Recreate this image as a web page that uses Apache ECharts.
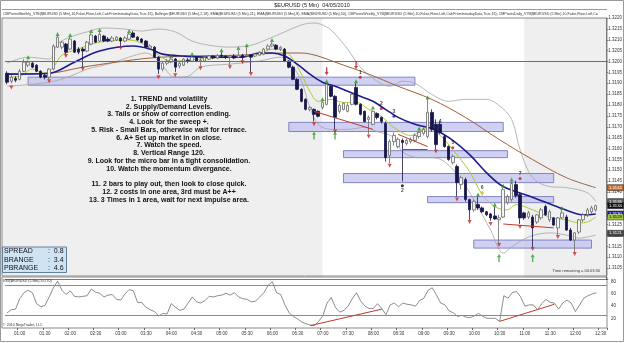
<!DOCTYPE html>
<html>
<head>
<meta charset="utf-8">
<script src="https://cdn.jsdelivr.net/npm/echarts@6/dist/echarts.min.js"></script>
<style>
html, body { margin: 0; padding: 0; background: #fff; }
#chart { width: 625px; height: 343px; }
</style>
</head>
<body>
<div id="chart"></div>
<script>
// 5 min bars, 00:45 .. 12:35 (last two slots empty)
const barTimes = [];
for (let m = 45; m <= 12 * 60 + 35; m += 5) {
  barTimes.push(String(Math.floor(m / 60)).padStart(2, '0') + ':' + String(m % 60).padStart(2, '0'));
}

// [open, close, low, high]
const candles = [
  [1.31946, 1.31905, 1.31895, 1.31955], [1.31909, 1.31928, 1.31900, 1.31937], [1.31923, 1.31914, 1.31905, 1.31932],
  [1.31918, 1.31955, 1.31914, 1.31965], [1.31955, 1.31997, 1.31951, 1.32011], [1.31983, 1.31997, 1.31974, 1.32006],
  [1.31992, 1.31974, 1.31969, 1.32002], [1.31983, 1.31955, 1.31951, 1.31988], [1.31955, 1.31928, 1.31923, 1.31960],
  [1.31937, 1.31928, 1.31918, 1.31946], [1.31928, 1.31965, 1.31918, 1.31969], [1.31965, 1.32071, 1.31960, 1.32080],
  [1.32066, 1.32112, 1.32062, 1.32117], [1.32066, 1.32089, 1.32057, 1.32094], [1.32080, 1.32043, 1.32034, 1.32085],
  [1.32057, 1.32103, 1.32052, 1.32112], [1.32094, 1.32043, 1.32039, 1.32099], [1.32057, 1.32043, 1.32034, 1.32066],
  [1.32057, 1.32048, 1.31974, 1.32066], [1.32048, 1.32089, 1.32043, 1.32094], [1.32080, 1.32122, 1.32075, 1.32131],
  [1.32117, 1.32089, 1.32085, 1.32122], [1.32094, 1.32126, 1.32089, 1.32136], [1.32117, 1.32094, 1.32089, 1.32122],
  [1.32103, 1.32094, 1.32089, 1.32112], [1.32094, 1.32108, 1.32089, 1.32117], [1.32099, 1.32112, 1.32094, 1.32117],
  [1.32108, 1.32094, 1.32071, 1.32112], [1.32094, 1.32108, 1.32089, 1.32117], [1.32103, 1.32126, 1.32099, 1.32131],
  [1.32131, 1.32112, 1.32108, 1.32140], [1.32112, 1.32099, 1.32094, 1.32117], [1.32103, 1.32089, 1.32085, 1.32108],
  [1.32094, 1.32066, 1.32062, 1.32099], [1.32062, 1.32071, 1.32057, 1.32080], [1.32066, 1.32020, 1.32016, 1.32071],
  [1.32020, 1.31965, 1.31942, 1.32025], [1.31965, 1.31992, 1.31955, 1.32002], [1.31992, 1.32002, 1.31983, 1.32011],
  [1.31997, 1.32011, 1.31992, 1.32016], [1.32011, 1.31974, 1.31951, 1.32016], [1.31979, 1.31992, 1.31969, 1.32002],
  [1.31983, 1.32011, 1.31979, 1.32016], [1.32006, 1.32002, 1.31992, 1.32016], [1.32002, 1.32020, 1.31997, 1.32025],
  [1.32020, 1.32002, 1.31997, 1.32025], [1.32002, 1.32006, 1.31979, 1.32016], [1.32002, 1.32020, 1.31997, 1.32025],
  [1.32011, 1.32025, 1.32006, 1.32029], [1.32025, 1.32016, 1.32011, 1.32029], [1.32016, 1.32029, 1.32011, 1.32034],
  [1.32029, 1.32025, 1.32020, 1.32043], [1.32025, 1.32020, 1.32011, 1.32029], [1.32020, 1.32025, 1.31983, 1.32029],
  [1.32025, 1.32016, 1.32011, 1.32034], [1.32020, 1.32029, 1.32016, 1.32052], [1.32029, 1.32020, 1.32006, 1.32034],
  [1.32025, 1.32029, 1.32020, 1.32066], [1.32029, 1.32020, 1.31951, 1.32034], [1.32025, 1.32034, 1.32020, 1.32039],
  [1.32029, 1.32043, 1.32025, 1.32048], [1.32034, 1.32057, 1.32029, 1.32062], [1.32057, 1.32071, 1.32052, 1.32080],
  [1.32071, 1.32080, 1.32066, 1.32089], [1.32075, 1.32057, 1.32052, 1.32080], [1.32057, 1.32066, 1.32048, 1.32071],
  [1.32057, 1.32002, 1.31997, 1.32062], [1.32002, 1.31974, 1.31969, 1.32006], [1.31974, 1.31918, 1.31914, 1.31979],
  [1.31918, 1.31872, 1.31868, 1.31923], [1.31872, 1.31817, 1.31812, 1.31877], [1.31826, 1.31780, 1.31775, 1.31831],
  [1.31780, 1.31789, 1.31771, 1.31794], [1.31780, 1.31757, 1.31724, 1.31784], [1.31771, 1.31748, 1.31743, 1.31775],
  [1.31789, 1.31812, 1.31780, 1.31817], [1.31803, 1.31895, 1.31798, 1.31900], [1.31886, 1.31840, 1.31835, 1.31891],
  [1.31840, 1.31743, 1.31688, 1.31845], [1.31771, 1.31798, 1.31761, 1.31808], [1.31780, 1.31808, 1.31775, 1.31812],
  [1.31771, 1.31798, 1.31766, 1.31808], [1.31803, 1.31849, 1.31798, 1.31854], [1.31881, 1.31803, 1.31798, 1.31900],
  [1.31803, 1.31757, 1.31752, 1.31808], [1.31771, 1.31724, 1.31720, 1.31775], [1.31734, 1.31743, 1.31665, 1.31752],
  [1.31711, 1.31771, 1.31706, 1.31775], [1.31761, 1.31743, 1.31734, 1.31766], [1.31743, 1.31724, 1.31715, 1.31748],
  [1.31715, 1.31558, 1.31540, 1.31724], [1.31567, 1.31632, 1.31531, 1.31642], [1.31632, 1.31660, 1.31614, 1.31674],
  [1.31609, 1.31642, 1.31600, 1.31651], [1.31637, 1.31628, 1.31448, 1.31646], [1.31623, 1.31637, 1.31614, 1.31646],
  [1.31632, 1.31642, 1.31623, 1.31651], [1.31637, 1.31660, 1.31628, 1.31669], [1.31655, 1.31674, 1.31646, 1.31683],
  [1.31669, 1.31688, 1.31660, 1.31697], [1.31655, 1.31766, 1.31646, 1.31826], [1.31766, 1.31688, 1.31678, 1.31780],
  [1.31711, 1.31618, 1.31595, 1.31734], [1.31711, 1.31674, 1.31665, 1.31724], [1.31655, 1.31609, 1.31604, 1.31665],
  [1.31609, 1.31549, 1.31544, 1.31614], [1.31535, 1.31563, 1.31526, 1.31572], [1.31517, 1.31443, 1.31379, 1.31526],
  [1.31434, 1.31466, 1.31411, 1.31475], [1.31457, 1.31365, 1.31356, 1.31466], [1.31365, 1.31318, 1.31272, 1.31369],
  [1.31318, 1.31356, 1.31309, 1.31365], [1.31342, 1.31327, 1.31318, 1.31379], [1.31327, 1.31309, 1.31304, 1.31333],
  [1.31309, 1.31295, 1.31290, 1.31313], [1.31299, 1.31281, 1.31267, 1.31304], [1.31290, 1.31276, 1.31272, 1.31333],
  [1.31272, 1.31281, 1.31165, 1.31295], [1.31285, 1.31411, 1.31281, 1.31420], [1.31351, 1.31379, 1.31342, 1.31388],
  [1.31365, 1.31439, 1.31356, 1.31448], [1.31434, 1.31383, 1.31374, 1.31452], [1.31388, 1.31281, 1.31253, 1.31397],
  [1.31304, 1.31281, 1.31272, 1.31309], [1.31285, 1.31304, 1.31276, 1.31313], [1.31285, 1.31235, 1.31147, 1.31295],
  [1.31262, 1.31295, 1.31253, 1.31299], [1.31281, 1.31318, 1.31272, 1.31327], [1.31333, 1.31295, 1.31290, 1.31342],
  [1.31272, 1.31309, 1.31262, 1.31318], [1.31281, 1.31248, 1.31244, 1.31285], [1.31235, 1.31281, 1.31202, 1.31285],
  [1.31281, 1.31304, 1.31276, 1.31318], [1.31285, 1.31225, 1.31221, 1.31295], [1.31225, 1.31179, 1.31175, 1.31235],
  [1.31179, 1.31212, 1.31124, 1.31216], [1.31216, 1.31272, 1.31207, 1.31276], [1.31272, 1.31295, 1.31262, 1.31304],
  [1.31295, 1.31318, 1.31285, 1.31327], [1.31309, 1.31327, 1.31299, 1.31337], [1.31318, 1.31337, 1.31309, 1.31342]
];

const rsiValues = [
  29, 34, 35, 52, 62, 66, 62, 44, 39, 41, 55, 70, 81, 66, 59, 65, 56, 55, 56, 57,
  68, 63, 61, 55, 58, 59, 51, 50, 60, 67, 65, 46, 46, 38, 34, 31, 24, 28, 27, 44,
  38, 33, 35, 45, 55, 47, 45, 49, 56, 55, 57, 58, 61, 58, 62, 55, 52, 51, 47, 48,
  55, 62, 74, 80, 62, 59, 42, 29, 23, 19, 14, 11, 9, 8, 15, 24, 45, 54, 38, 30,
  33, 40, 52, 62, 48, 40, 36, 36, 44, 36, 26, 42, 45, 39, 45, 43, 42, 40, 49, 53,
  66, 70, 58, 45, 42, 32, 29, 23, 25, 22, 21, 24, 28, 23, 20, 20, 20, 15, 57, 53,
  62, 64, 55, 40, 42, 42, 34, 44, 51, 46, 45, 35, 45, 50, 45, 31, 42, 53, 57, 60, 62
];

// indicator lines, read at sample bars
const emaMidBars = [0, 10, 16, 22, 30, 34, 37, 42, 48, 56, 60, 63, 66, 69, 72, 75, 78, 81, 84, 87, 90, 93, 97, 101, 105, 110, 114, 118, 124, 129, 134, 137, 140];
const emaMidValues = [1.31942, 1.31946, 1.31997, 1.32048, 1.32071, 1.32057, 1.32034, 1.32025, 1.32020, 1.32020, 1.32039, 1.32039, 1.32025, 1.31988, 1.31942, 1.31905, 1.31886, 1.31863, 1.31840, 1.31817, 1.31780, 1.31743, 1.31711, 1.31692, 1.31651, 1.31572, 1.31489, 1.31425, 1.31383, 1.31346, 1.31309, 1.31295, 1.31299];

const emaFastBars = [0, 3, 6, 9, 11, 13, 17, 20, 24, 29, 33, 36, 39, 43, 48, 55, 60, 63, 66, 68, 70, 72, 74, 77, 80, 83, 86, 89, 92, 96, 100, 103, 106, 110, 113, 116, 119, 121, 125, 129, 133, 136, 138, 140];
const emaFastValues = [1.31928, 1.31932, 1.31965, 1.31946, 1.31974, 1.32029, 1.32057, 1.32080, 1.32094, 1.32099, 1.32075, 1.32029, 1.32002, 1.32006, 1.32016, 1.32020, 1.32034, 1.32057, 1.32048, 1.32011, 1.31942, 1.31863, 1.31817, 1.31826, 1.31812, 1.31812, 1.31780, 1.31748, 1.31697, 1.31660, 1.31697, 1.31660, 1.31595, 1.31494, 1.31388, 1.31333, 1.31318, 1.31342, 1.31318, 1.31285, 1.31272, 1.31258, 1.31262, 1.31285];

const emaSlowBars = [0, 10, 18, 26, 34, 43, 55, 66, 70, 74, 78, 86, 93, 101, 109, 117, 125, 133, 140];
const emaSlowValues = [1.31942, 1.31946, 1.31974, 1.31997, 1.32016, 1.32025, 1.32029, 1.32039, 1.32039, 1.32025, 1.31997, 1.31942, 1.31886, 1.31826, 1.31743, 1.31642, 1.31549, 1.31466, 1.31420];

const bbUpperBars = [0, 5, 10, 12, 15, 19, 23, 28, 32, 36, 40, 44, 48, 53, 58, 62, 66, 70, 73, 76, 78, 81, 84, 88, 91, 94, 97, 101, 105, 109, 114, 117, 120, 122, 125, 129, 133, 138, 140];
const bbUpperValues = [1.31992, 1.32020, 1.32011, 1.32080, 1.32112, 1.32136, 1.32154, 1.32149, 1.32140, 1.32149, 1.32136, 1.32094, 1.32075, 1.32066, 1.32075, 1.32103, 1.32136, 1.32168, 1.32177, 1.32159, 1.32126, 1.32057, 1.31974, 1.31909, 1.31886, 1.31909, 1.31900, 1.31849, 1.31817, 1.31826, 1.31826, 1.31798, 1.31734, 1.31595, 1.31466, 1.31425, 1.31420, 1.31397, 1.31356];

const bbLowerBars = [0, 10, 15, 19, 24, 29, 33, 36, 40, 43, 46, 53, 60, 65, 67, 70, 72, 74, 77, 81, 85, 88, 92, 94, 98, 101, 104, 108, 111, 115, 118, 120, 124, 129, 133, 136, 140];
const bbLowerValues = [1.31886, 1.31905, 1.31932, 1.31965, 1.31988, 1.32020, 1.32039, 1.32002, 1.31928, 1.31932, 1.31974, 1.31988, 1.32002, 1.32020, 1.32002, 1.31909, 1.31789, 1.31711, 1.31688, 1.31688, 1.31697, 1.31678, 1.31651, 1.31586, 1.31558, 1.31558, 1.31540, 1.31457, 1.31365, 1.31225, 1.31119, 1.31147, 1.31193, 1.31212, 1.31202, 1.31188, 1.31202];

// pivot / level lines
const levelValues = [1.3220, 1.3200, 1.3180, 1.3150, 1.3121];
const levelColors = ['#23237a', '#5a5a70', '#6a6a7a', '#23237a', '#7a7a7a'];

// supply / demand zones: bar from, bar to, top, bottom
const zoneFrom = [5, 67, 80, 80, 100, 111];
const zoneTo = [97, 118, 119, 130, 130, 139];
const zoneTop = [1.31928, 1.31720, 1.31590, 1.31485, 1.31379, 1.31179];
const zoneBottom = [1.31891, 1.31678, 1.31558, 1.31443, 1.31351, 1.31142];

// swing markers
const swingLows = [[1, 1.31881], [10, 1.31909], [14, 1.32025], [18, 1.31965], [27, 1.32062], [36, 1.31928], [40, 1.31937], [46, 1.31969], [53, 1.31974], [56, 1.31997], [58, 1.31942], [73, 1.31711], [78, 1.31678], [86, 1.31655], [91, 1.31521], [102, 1.31586], [107, 1.31365], [110, 1.31262], [115, 1.31253], [117, 1.31156], [122, 1.31239], [125, 1.31138], [131, 1.31193], [135, 1.31115]];
const swingHighs = [[5, 1.32020], [12, 1.32126], [15, 1.32122], [20, 1.32140], [22, 1.32145], [29, 1.32140], [39, 1.32025], [44, 1.32034], [51, 1.32052], [55, 1.32062], [57, 1.32075], [63, 1.32099], [75, 1.31826], [76, 1.31909], [83, 1.31909], [87, 1.31789], [98, 1.31692], [100, 1.31835], [112, 1.31388], [116, 1.31342], [118, 1.31429], [120, 1.31457], [132, 1.31327]];
const buyArrows = [[73, 1.31660], [78, 1.31660], [117, 1.31096], [125, 1.31096]];
const sellArrows = [[76, 1.31955], [83, 1.31983]];

const waveNames = ['1', '2', '3', '4', '5', '6', '7', '2'];
const wavePoints = [[84, 1.31928], [89, 1.31784], [92, 1.31748], [103, 1.31701], [106, 1.31604], [113, 1.31397], [122, 1.31462], [94, 1.31429]];
const waveColors = ['#c01818', '#c01818', '#1c1c8c', '#1c1c8c', '#c01818', '#d0c000', '#c01818', '#000000'];

// divergence lines [bar, value] -> [bar, value]
const priceDivergence = [[[73, 1.31771], [87, 1.31688]], [[93, 1.31665], [100, 1.31609]], [[94, 1.31595], [100, 1.31595]], [[118, 1.31253], [130, 1.31235]]];
const rsiDivergence = [[[72, 8], [89, 35]], [[117, 15], [130, 43]]];

const noteLines = [
  '1. TREND and volatility',
  '2. Supply/Demand Levels.',
  '3. Tails or show of correction ending.',
  '4. Look for the sweep +.',
  '5. Risk - Small Bars, otherwise wait for retrace.',
  '6. A+ Set up market in on close.',
  '7. Watch the speed.',
  '8. Vertical Range 120.',
  '9. Look for the micro bar in a tight consolidation.',
  '10. Watch the momentum divergance.',
  '',
  '11. 2 bars to play out, then look to close quick.',
  '12. 2 costs in one area, 3rd must be A++',
  '13. 3 Times in 1 area, wait for next impulse area.'
];

const statLabels = ['SPREAD', 'BRANGE', 'PBRANGE'];
const statValues = ['0.8', '3.4', '4.6'];

const FONT = 'Liberation Sans, Arial, sans-serif';

function linePairs(bars, values) {
  return bars.map((b, j) => [b, values[j]]);
}

function halfHour(idx, val) {
  return /:(00|30)$/.test(val);
}

function indicatorLine(name, bars, values, color, width) {
  return {
    name: name,
    type: 'line',
    xAxisIndex: 0,
    yAxisIndex: 0,
    data: linePairs(bars, values),
    symbol: 'none',
    smooth: 0.35,
    silent: true,
    z: 3,
    lineStyle: { color: color, width: width }
  };
}

const emptyData = barTimes.map(() => null);

const staticGraphics = [
  { type: 'rect', id: 'outer', shape: { x: 0.5, y: 0.5, width: 623, height: 341 }, style: { fill: '#fff', stroke: '#9a9a9a' }, z: -10 },
  { type: 'rect', id: 'mainBg', shape: { x: 2, y: 18, width: 605, height: 258 }, style: { fill: '#efefef' }, z: -5 },
  { type: 'rect', id: 'rsiBg', shape: { x: 2, y: 277, width: 605, height: 51 }, style: { fill: '#fff', stroke: '#8a8a8a' }, z: -5 },
  { type: 'line', id: 'stripTop', shape: { x1: 2, y1: 9.5, x2: 607, y2: 9.5 }, style: { stroke: '#9a9a9a' }, z: 10 },
  { type: 'rect', id: 'mainFrame', shape: { x: 2, y: 18, width: 605, height: 258 }, style: { fill: null, stroke: '#8a8a8a' }, z: 10, silent: true },
  { type: 'text', id: 'title', x: 312, y: 5, style: { text: '$EURUSD (5 Min)  04/05/2010', font: '5.5px ' + FONT, fill: '#222', textAlign: 'center', textVerticalAlign: 'middle' }, z: 10 },
  { type: 'text', id: 'strip', x: 3, y: 13.5, style: { text: 'CMPivotsMonthly_V7B($EURUSD (5 Min),10,False,Floor,Left,CalcFromIntradayData,True,16), Bollinger($EURUSD (5 Min),2,18), EMA($EURUSD (5 Min),21), EMA($EURUSD (5 Min),8), EMA($EURUSD (5 Min),50), CMPivotsWeekly_V7B($EURUSD (5 Min),10,False,Floor,Left,CalcFromIntradayData,True,16), CMPivotsDaily_V7B($EURUSD (5 Min),10,False,Floor,Left,Ca', font: '3.6px ' + FONT, fill: '#333', textVerticalAlign: 'middle', width: 596, overflow: 'truncate' }, z: 10 },
  { type: 'text', id: 'notes', x: 169, y: 95, style: { text: noteLines.join('\n'), font: 'bold 7px ' + FONT, lineHeight: 7.75, fill: '#111', textAlign: 'center', textVerticalAlign: 'top' }, z: 10 },
  { type: 'rect', id: 'statBox', shape: { x: 2.5, y: 247, width: 64, height: 25.5 }, style: { fill: '#cfe3f3', stroke: '#5f7f9f' }, z: 10 },
  { type: 'text', id: 'statNames', x: 4, y: 247.2, style: { text: statLabels.join('\n'), font: '7px ' + FONT, lineHeight: 8.3, fill: '#111' }, z: 11 },
  { type: 'text', id: 'statVals', x: 48, y: 247.2, style: { text: statValues.map(v => ':  ' + v).join('\n'), font: '7px ' + FONT, lineHeight: 8.3, fill: '#111' }, z: 11 },
  { type: 'text', id: 'remaining', x: 600, y: 270.5, style: { text: 'Time remaining = 00:03:30', font: '4px ' + FONT, fill: '#333', textAlign: 'right', textVerticalAlign: 'middle' }, z: 10 },
  { type: 'text', id: 'rsiTitle', x: 3, y: 280.5, style: { text: 'RSI($EURUSD (5 Min),9,0,70)', font: '3.6px ' + FONT, fill: '#333', textVerticalAlign: 'middle' }, z: 10 },
  { type: 'text', id: 'copy', x: 3, y: 324.5, style: { text: '\u00a9 2010 NinjaTrader, LLC', font: '3.6px ' + FONT, fill: '#333', textVerticalAlign: 'middle' }, z: 10 }
];

const chart = echarts.init(document.getElementById('chart'));

const option = {
  animation: false,
  backgroundColor: '#ffffff',
  textStyle: { fontFamily: FONT },
  grid: [
    { left: 5, right: 18, top: 18, height: 261 },
    { left: 5, right: 18, top: 269.5, height: 61 }
  ],
  xAxis: [
    { type: 'category', gridIndex: 0, data: barTimes, boundaryGap: true, show: false },
    {
      type: 'category', gridIndex: 1, data: barTimes, boundaryGap: true, offset: -2.5,
      axisLine: { show: false },
      axisTick: { show: true, interval: halfHour, length: 2, lineStyle: { color: '#666' } },
      axisLabel: { interval: halfHour, fontSize: 4.5, color: '#333', margin: 3 },
      splitLine: { show: false }
    }
  ],
  yAxis: [
    {
      type: 'value', gridIndex: 0, position: 'right', min: 1.3100, max: 1.3220, interval: 0.0005,
      axisLine: { show: true, lineStyle: { color: '#666' } },
      axisTick: { show: true, length: 2, lineStyle: { color: '#666' } },
      axisLabel: { fontSize: 4.5, color: '#333', margin: 2, formatter: v => (v < 1.31025 ? '' : v.toFixed(4)) },
      splitLine: { show: false }
    },
    {
      type: 'value', gridIndex: 1, position: 'right', min: 0, max: 100, interval: 20,
      axisLine: { show: false },
      axisTick: { show: false },
      axisLabel: { fontSize: 4.5, color: '#333', margin: 4, formatter: v => (v === 0 || v === 100 ? '' : String(v)) },
      splitLine: { show: false }
    }
  ],
  series: [
    {
      name: 'session',
      type: 'line',
      xAxisIndex: 0,
      yAxisIndex: 0,
      data: emptyData,
      silent: true,
      z: 1,
      markArea: {
        silent: true,
        itemStyle: { color: '#ffffff' },
        data: [[{ xAxis: 75, yAxis: 1.3220 }, { xAxis: 123, yAxis: 1.31013 }]]
      },
      markLine: {
        silent: true,
        symbol: 'none',
        label: { show: false },
        data: levelValues.map((v, j) => ({ yAxis: v, lineStyle: { color: levelColors[j], width: 1, type: 'solid' } }))
      }
    },
    {
      name: 'zones',
      type: 'line',
      xAxisIndex: 0,
      yAxisIndex: 0,
      data: emptyData,
      silent: true,
      z: 2,
      markArea: {
        silent: true,
        itemStyle: { color: 'rgba(196,196,240,0.8)', borderColor: '#8484c4', borderWidth: 1 },
        data: zoneFrom.map((f, j) => [{ xAxis: f, yAxis: zoneTop[j] }, { xAxis: zoneTo[j], yAxis: zoneBottom[j] }])
      }
    },
    indicatorLine('bbUpper', bbUpperBars, bbUpperValues, '#a4a4a4', 0.8),
    indicatorLine('bbLower', bbLowerBars, bbLowerValues, '#a4a4a4', 0.8),
    indicatorLine('emaSlow', emaSlowBars, emaSlowValues, '#a0603a', 1),
    indicatorLine('emaFast', emaFastBars, emaFastValues, '#a8c83c', 1),
    indicatorLine('emaMid', emaMidBars, emaMidValues, '#1c1c8c', 1.6),
    {
      name: 'price',
      type: 'candlestick',
      xAxisIndex: 0,
      yAxisIndex: 0,
      data: candles,
      barWidth: 3,
      z: 4,
      itemStyle: { color: '#f4f4f4', color0: '#16164a', borderColor: '#6a6a6a', borderColor0: '#16164a', borderWidth: 0.8 },
      markLine: {
        silent: true,
        symbol: 'none',
        label: { show: false },
        lineStyle: { color: '#c0392b', width: 1, type: 'solid' },
        data: priceDivergence.map(seg => [{ coord: seg[0] }, { coord: seg[1] }])
      }
    },
    {
      name: 'swingLow', type: 'scatter', xAxisIndex: 0, yAxisIndex: 0, data: swingLows, z: 5, silent: true,
      symbol: 'triangle', symbolRotate: 180, symbolSize: [4, 4], itemStyle: { color: '#d02020' }
    },
    {
      name: 'swingHigh', type: 'scatter', xAxisIndex: 0, yAxisIndex: 0, data: swingHighs, z: 5, silent: true,
      symbol: 'triangle', symbolSize: [4, 4], itemStyle: { color: '#1f9a1f' }
    },
    {
      name: 'buy', type: 'scatter', xAxisIndex: 0, yAxisIndex: 0, data: buyArrows, z: 5, silent: true,
      symbol: 'path://M3,0 L6,4 L4,4 L4,10 L2,10 L2,4 L0,4 Z', symbolSize: [4, 8], itemStyle: { color: '#2c9a2c' }
    },
    {
      name: 'sell', type: 'scatter', xAxisIndex: 0, yAxisIndex: 0, data: sellArrows, z: 5, silent: true,
      symbol: 'path://M3,0 L6,4 L4,4 L4,10 L2,10 L2,4 L0,4 Z', symbolRotate: 180, symbolSize: [4, 8], itemStyle: { color: '#b01818' }
    },
    {
      name: 'waves', type: 'scatter', xAxisIndex: 0, yAxisIndex: 0, z: 6, silent: true,
      symbolSize: 3,
      data: wavePoints.map((p, j) => ({
        value: p,
        itemStyle: { color: waveColors[j] },
        label: { show: true, formatter: waveNames[j], position: j === 7 ? 'bottom' : 'top', distance: 1, fontSize: 5, fontWeight: 'bold', color: '#111' }
      }))
    },
    {
      name: 'rsi',
      type: 'line',
      xAxisIndex: 1,
      yAxisIndex: 1,
      data: rsiValues,
      symbol: 'none',
      silent: true,
      lineStyle: { color: '#707070', width: 0.8 },
      markLine: {
        silent: true,
        symbol: 'none',
        label: { show: false },
        data: [
          { yAxis: 75, lineStyle: { color: '#8a8a8a', width: 1, type: 'solid' } },
          { yAxis: 25, lineStyle: { color: '#8a8a8a', width: 1, type: 'solid' } }
        ].concat(rsiDivergence.map(seg => [
          { coord: seg[0], lineStyle: { color: '#c0392b', width: 1, type: 'solid' } },
          { coord: seg[1] }
        ]))
      }
    }
  ],
  graphic: staticGraphics
};

chart.setOption(option);

// value tags on the price axis
const lastBar = candles.length - 1;
const tagDefs = [
  { value: emaSlowValues[emaSlowValues.length - 1], fill: '#c8682d', color: '#fff' },
  { value: bbUpperValues[bbUpperValues.length - 1], fill: '#5e5e5e', color: '#fff' },
  { value: candles[lastBar][1], fill: '#111111', color: '#fff' },
  { value: emaMidValues[emaMidValues.length - 1], fill: '#1c1cb0', color: '#fff' },
  { value: emaFastValues[emaFastValues.length - 1], fill: '#9cc83c', color: '#000' },
  { value: levelValues[4], fill: '#444444', color: '#fff' }
];
const tagGraphics = [];
tagDefs.forEach((t, j) => {
  const y = chart.convertToPixel({ yAxisIndex: 0 }, t.value);
  tagGraphics.push({ type: 'rect', id: 'tagBox' + j, shape: { x: 607.5, y: y - 3, width: 16, height: 6 }, style: { fill: t.fill, stroke: '#222', lineWidth: 0.5 }, z: 20 });
  tagGraphics.push({ type: 'text', id: 'tagText' + j, x: 609, y: y, style: { text: t.value.toFixed(4), font: '4.2px ' + FONT, fill: t.color, textVerticalAlign: 'middle' }, z: 21 });
});
chart.setOption({ graphic: staticGraphics.concat(tagGraphics) });
</script>
</body>
</html>
